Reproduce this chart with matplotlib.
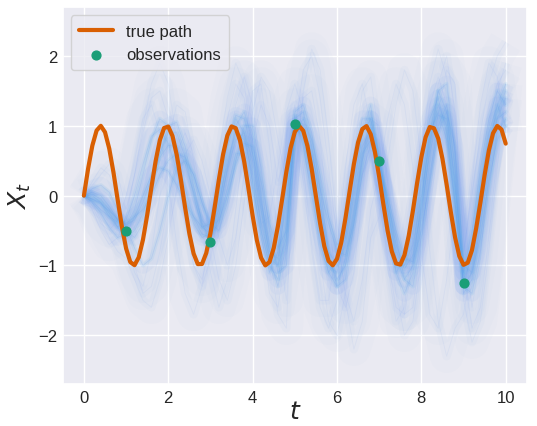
import numpy as np
import matplotlib
matplotlib.use("Agg")
import matplotlib.pyplot as plt
import seaborn as sns

sns.set_theme(style="darkgrid")
plt.rcParams['font.family'] = ['Liberation Sans', 'DejaVu Sans']

# true path, read at steps of 0.1
true_t = np.linspace(0, 10, 101)
true_x = [0, 0.389, 0.717, 0.932, 1.000, 0.909, 0.675, 0.335, -0.058, -0.443,
          -0.757, -0.952, -0.996, -0.883, -0.631, -0.279, 0.117, 0.494, 0.794, 0.968,
          0.989, 0.855, 0.585, 0.223, -0.174, -0.544, -0.829, -0.981, -0.979, -0.823,
          -0.537, -0.166, 0.231, 0.592, 0.860, 0.991, 0.966, 0.792, 0.487, 0.108,
          -0.288, -0.638, -0.889, -0.999, -0.951, -0.751, -0.435, -0.050, 0.343, 0.683,
          0.913, 1.000, 0.929, 0.711, 0.382, -0.009, -0.397, -0.726, -0.935, -0.998,
          -0.906, -0.675, -0.327, 0.066, 0.450, 0.763, 0.954, 0.996, 0.879, 0.623,
          0.271, -0.125, -0.502, -0.800, -0.971, -0.988, -0.851, -0.578, -0.214, 0.183,
          0.551, 0.835, 0.983, 0.964, 0.818, 0.529, 0.157, -0.240, -0.598, -0.867,
          -0.991, -0.961, -0.781, -0.467, -0.099, 0.296, 0.645, 0.894, 0.998, 0.947,
          0.745]

obs_t = [1, 3, 5, 7, 9]
obs_x = [-0.5, -0.67, 1.02, 0.5, -1.25]

# sample paths, read at steps of 0.2
path_t = np.linspace(0, 10, 51)
core_paths = [
    [0, -0.05, -0.12, -0.22, -0.33, -0.42, -0.35, -0.1, 0.25, 0.55, 0.72, 0.7, 0.45, 0.05, -0.35, -0.5, -0.2, 0.35, 0.8, 0.9, 0.5, -0.2, -0.8, -0.9, -0.1, 1.05, 1.0, 0.5, -0.2, -0.8, -1.0, -0.7, 0.0, 0.7, 0.95, 0.45, -0.2, -0.8, -1.05, -0.85, -0.2, 0.6, 1.15, 1.1, 0.2, -1.2, -0.9, -0.1, 0.6, 1.1, 1.2],
    [0, 0.05, 0.0, -0.15, -0.35, -0.5, -0.6, -0.4, 0.1, 0.6, 1.0, 1.05, 0.7, 0.15, -0.4, -0.65, -0.3, 0.4, 1.0, 1.2, 0.8, 0.0, -0.9, -1.3, -0.7, 1.2, 1.3, 0.9, 0.1, -0.8, -1.3, -1.2, -0.4, 0.5, 1.2, 0.6, -0.3, -1.1, -1.4, -1.1, -0.3, 0.7, 1.5, 1.6, 0.6, -1.3, -1.1, -0.3, 0.6, 1.3, 1.6],
    [0, -0.08, -0.2, -0.3, -0.38, -0.4, -0.3, -0.2, 0.0, 0.3, 0.5, 0.6, 0.55, 0.3, -0.1, -0.45, -0.35, 0.0, 0.45, 0.75, 0.7, 0.2, -0.4, -0.75, -0.5, 0.95, 0.9, 0.6, 0.1, -0.4, -0.8, -0.85, -0.4, 0.3, 0.75, 0.35, 0.0, -0.5, -0.9, -0.95, -0.5, 0.2, 0.9, 1.2, 0.7, -1.0, -1.1, -0.6, 0.2, 0.8, 1.0],
    [0, 0.02, -0.05, -0.2, -0.35, -0.45, -0.75, -1.0, -0.9, -0.5, 0.0, 0.4, 0.5, 0.3, -0.1, -0.4, -0.5, -0.1, 0.5, 1.0, 1.0, 0.4, -0.5, -1.1, -1.0, 1.0, 0.8, 0.2, -0.5, -1.1, -1.3, -0.9, -0.2, 0.5, 1.0, 0.5, -0.1, -0.6, -1.2, -1.3, -0.6, 0.3, 1.0, 1.3, 0.4, -1.4, -1.2, -0.4, 0.4, 1.1, 1.4],
    [0, 0.1, 0.15, 0.05, -0.2, -0.45, -0.2, 0.3, 0.8, 1.1, 1.0, 0.6, 0.1, -0.3, -0.55, -0.6, 0.0, 0.7, 1.1, 0.9, 0.2, -0.6, -1.1, -0.8, 0.2, 1.15, 0.7, 0.0, -0.7, -1.1, -0.9, -0.3, 0.5, 1.1, 1.1, 0.4, -0.5, -1.1, -0.9, -0.3, 0.4, 1.1, 1.4, 0.9, -0.2, -1.1, -0.5, 0.4, 1.1, 1.5, 1.3],
    [0, -0.1, -0.25, -0.45, -0.6, -0.55, -0.3, 0.0, 0.3, 0.4, 0.35, 0.15, -0.1, -0.3, -0.45, -0.55, -0.4, 0.1, 0.6, 0.6, 0.1, -0.5, -1.0, -1.2, -0.4, 0.9, 1.1, 0.8, 0.3, -0.3, -0.7, -0.6, 0.1, 0.9, 1.3, 0.3, -0.5, -1.0, -1.0, -0.5, 0.2, 0.9, 1.2, 0.8, -0.1, -1.3, -1.4, -0.8, 0.1, 0.9, 1.1],
    [0, 0.0, -0.1, -0.3, -0.45, -0.35, 0.0, 0.45, 0.85, 0.95, 0.75, 0.35, -0.05, -0.4, -0.6, -0.55, -0.1, 0.5, 0.9, 0.8, 0.3, -0.4, -0.9, -1.0, 0.1, 1.1, 1.2, 0.7, -0.1, -0.9, -1.2, -1.0, -0.3, 0.6, 0.8, 0.5, -0.2, -0.9, -1.2, -1.0, -0.1, 0.9, 1.5, 1.2, 0.1, -1.1, -0.7, 0.1, 0.9, 1.3, 1.0],
    [0, -0.05, -0.1, -0.25, -0.45, -0.6, -0.5, -0.25, 0.15, 0.6, 0.9, 0.9, 0.55, 0.0, -0.45, -0.4, 0.1, 0.75, 1.15, 1.1, 0.6, -0.1, -0.7, -1.0, -0.6, 1.0, 0.9, 0.3, -0.5, -1.0, -1.1, -0.6, 0.2, 0.9, 1.1, 0.55, -0.1, -0.7, -1.0, -0.7, 0.0, 0.8, 1.3, 1.0, -0.1, -1.3, -0.8, 0.2, 0.8, 1.2, 1.5],
]
halo_paths = [
    [0, -0.2, -0.5, -0.7, -0.6, -0.3, 0.3, 0.9, 1.4, 1.5, 1.1, 0.4, -0.4, -1.0, -1.2, -0.7, 0.2, 1.1, 1.6, 1.4, 0.6, -0.5, -1.4, -1.6, -0.8, 0.6, 1.4, 1.5, 0.8, -0.3, -1.3, -1.6, -1.1, 0.0, 1.1, 1.0, 0.2, -0.9, -1.7, -1.6, -0.7, 0.5, 1.6, 2.0, 1.2, -0.6, -1.6, -0.9, 0.4, 1.5, 1.9],
    [0, 0.2, 0.4, 0.3, 0.0, -0.5, -1.0, -1.4, -1.3, -0.8, -0.1, 0.6, 0.9, 0.6, 0.0, -0.6, -1.2, -1.5, -1.0, -0.1, 0.8, 1.3, 1.0, 0.2, 0.6, 1.3, 0.4, -0.7, -1.5, -1.5, -0.7, 0.4, 1.3, 1.6, 1.0, 0.1, -0.9, -1.6, -1.7, -0.9, 0.3, 1.3, 1.7, 1.3, 0.2, -1.0, -1.9, -1.6, -0.6, 0.6, 1.4],
    [0, -0.1, -0.35, -0.6, -0.8, -0.9, -1.2, -1.5, -1.6, -1.2, -0.6, 0.1, 0.6, 0.8, 0.5, 0.0, -0.6, -1.0, -0.6, 0.3, 1.2, 1.7, 1.5, 0.8, 0.2, 0.9, 1.8, 2.0, 1.4, 0.4, -0.6, -1.4, -1.8, -1.2, -0.2, 0.3, 1.1, 1.6, 1.3, 0.4, -0.8, -1.7, -1.9, -1.2, -0.2, -0.9, 0.2, 1.3, 1.9, 1.7, 0.9],
    [0, 0.15, 0.3, 0.45, 0.3, -0.2, 0.3, 1.0, 1.6, 1.9, 1.6, 0.8, -0.2, -1.0, -1.3, -0.9, -0.2, 0.6, 1.3, 1.7, 1.3, 0.3, -0.8, -1.7, -1.9, 1.0, 0.2, -0.8, -1.6, -1.9, -1.5, -0.6, 0.6, 1.5, 1.7, 0.8, -0.4, -1.4, -2.0, -1.8, -0.9, 0.2, 1.2, 1.8, 1.6, -1.5, -2.1, -1.8, -0.8, 0.4, 1.6],
    [0, -0.15, -0.4, -0.5, -0.35, 0.0, 0.5, 1.1, 1.3, 0.9, 0.2, -0.7, -1.4, -1.7, -1.3, -0.4, 0.6, 1.4, 1.9, 1.6, 0.7, -0.4, -0.3, 0.4, 1.2, 1.6, 1.2, 0.2, -0.9, -1.8, -2.0, -1.4, -0.4, 0.3, 0.6, 0.0, -1.0, -1.8, -1.6, -0.6, 0.6, 1.6, 2.1, 1.7, 0.6, -0.8, 0.0, 0.9, 1.6, 2.0, 2.2],
    [0, 0.05, 0.1, 0.0, -0.2, -0.6, -1.1, -1.3, -0.8, 0.0, 0.8, 1.3, 1.2, 0.5, -0.5, -1.1, -1.6, -1.2, -0.2, 0.8, 1.5, 1.6, 0.7, -0.6, -1.5, 0.2, 1.5, 2.1, 1.8, 0.8, -0.4, -1.5, -2.2, -1.8, -0.6, -0.3, 0.5, 1.3, 1.8, 1.5, 0.5, -0.8, -1.8, -2.3, -1.9, -1.7, -1.0, 0.1, 1.0, 1.6, 1.8],
]

fig, ax = plt.subplots(figsize=(5.37, 4.27), dpi=100)

# faint spread of the sample paths
for p in halo_paths:
    ax.plot(path_t, p, color='cornflowerblue', lw=24, alpha=0.02, solid_capstyle='butt')
    ax.plot(path_t, p, color='cornflowerblue', lw=6, alpha=0.035, solid_capstyle='butt')
    ax.plot(path_t, p, color='cornflowerblue', lw=0.6, alpha=0.08)
for p in core_paths:
    ax.plot(path_t, p, color='cornflowerblue', lw=12, alpha=0.055, solid_capstyle='butt')
    ax.plot(path_t, p, color='#56b4e9', lw=3, alpha=0.11)
    ax.plot(path_t, p, color='cornflowerblue', lw=0.6, alpha=0.18)

ax.plot(true_t, true_x, color='#d95f02', lw=3, label='true path', zorder=5)
ax.scatter(obs_t, obs_x, color='#1b9e77', s=40, label='observations', zorder=6)

ax.set_xlim(-0.5, 10.5)
ax.set_ylim(-2.7, 2.7)
ax.set_xticks([0, 2, 4, 6, 8, 10])
ax.set_yticks([-2, -1, 0, 1, 2])
ax.tick_params(labelsize=12, length=0, pad=4)
ax.set_xlabel('$t$', fontsize=18, labelpad=-4)
ax.set_ylabel('$X_t$', fontsize=18, labelpad=4)
ax.legend(loc='upper left', fontsize=12, borderpad=0.5)

plt.subplots_adjust(left=0.117, right=0.981, top=0.981, bottom=0.098)
plt.savefig('out.png')
